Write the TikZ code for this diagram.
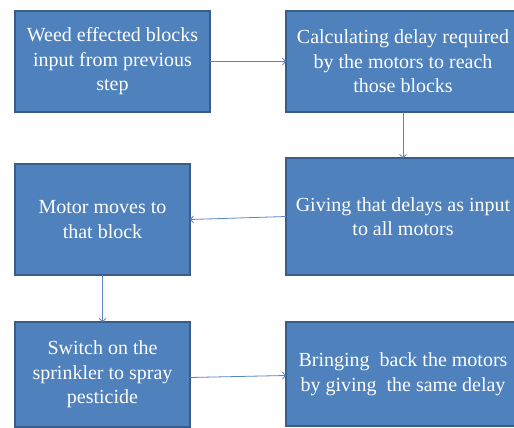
\documentclass[tikz,border=0pt]{standalone}
\usepackage{fontspec}
\setmainfont{Liberation Serif}
\newfontfamily\stepfont{Liberation Serif}
\usetikzlibrary{arrows.meta}
\definecolor{boxfill}{RGB}{79,129,189}
\definecolor{boxline}{RGB}{56,93,138}
\definecolor{linkcol}{RGB}{88,133,196}
\tikzset{
  stepbox/.style={draw=boxline, line width=1.2pt, fill=boxfill, text=white,
    align=center, inner sep=0pt, outer sep=0pt,
    font=\stepfont\fontsize{20}{24.5}\selectfont},
  link/.style={draw=linkcol, line width=0.8pt,
    -{Straight Barb[length=3pt,width=7pt]}}
}
\begin{document}
\begin{tikzpicture}[x=1pt,y=-1pt]
  \useasboundingbox (0,0) rectangle (514,428);
  \clip (0,0) rectangle (514,428);
  \fill[white] (0,0) rectangle (514,428);

  \node[stepbox, minimum width=195pt, minimum height=101pt] (b1) at (112.5,61.5)
    {Weed effected blocks\\input from previous\\step};
  \node[stepbox, minimum width=234pt, minimum height=101pt] (b2) at (403,61.5)
    {Calculating delay required\\by the motors to reach\\those blocks};
  \node[stepbox, minimum width=234pt, minimum height=117pt] (b3) at (403,216.5)
    {Giving that delays as input\\to all motors};
  \node[stepbox, minimum width=175pt, minimum height=111pt] (b4) at (102.5,219.5)
    {Motor moves to\\that block};
  \node[stepbox, minimum width=175pt, minimum height=105pt] (b5) at (102.5,374.5)
    {\raisebox{-3.5pt}{\begin{tabular}{@{}c@{}}Switch on the\\sprinkler to spray\\pesticide\end{tabular}}};
  \node[stepbox, minimum width=234pt, minimum height=104pt] (b6) at (403,374)
    {Bringing\ \ back the motors\\by giving\ \ the same delay};

  \draw[link] (b1.east) -- (b2.west);
  \draw[link] (b2.south) -- (b3.north);
  \draw[link] (b3.west) -- (b4.east);
  \draw[link] (b4.south) -- (b5.north);
  \draw[link] ([yshift=-3pt]b5.east) -- ([yshift=-1.5pt]b6.west);
\end{tikzpicture}
\end{document}
